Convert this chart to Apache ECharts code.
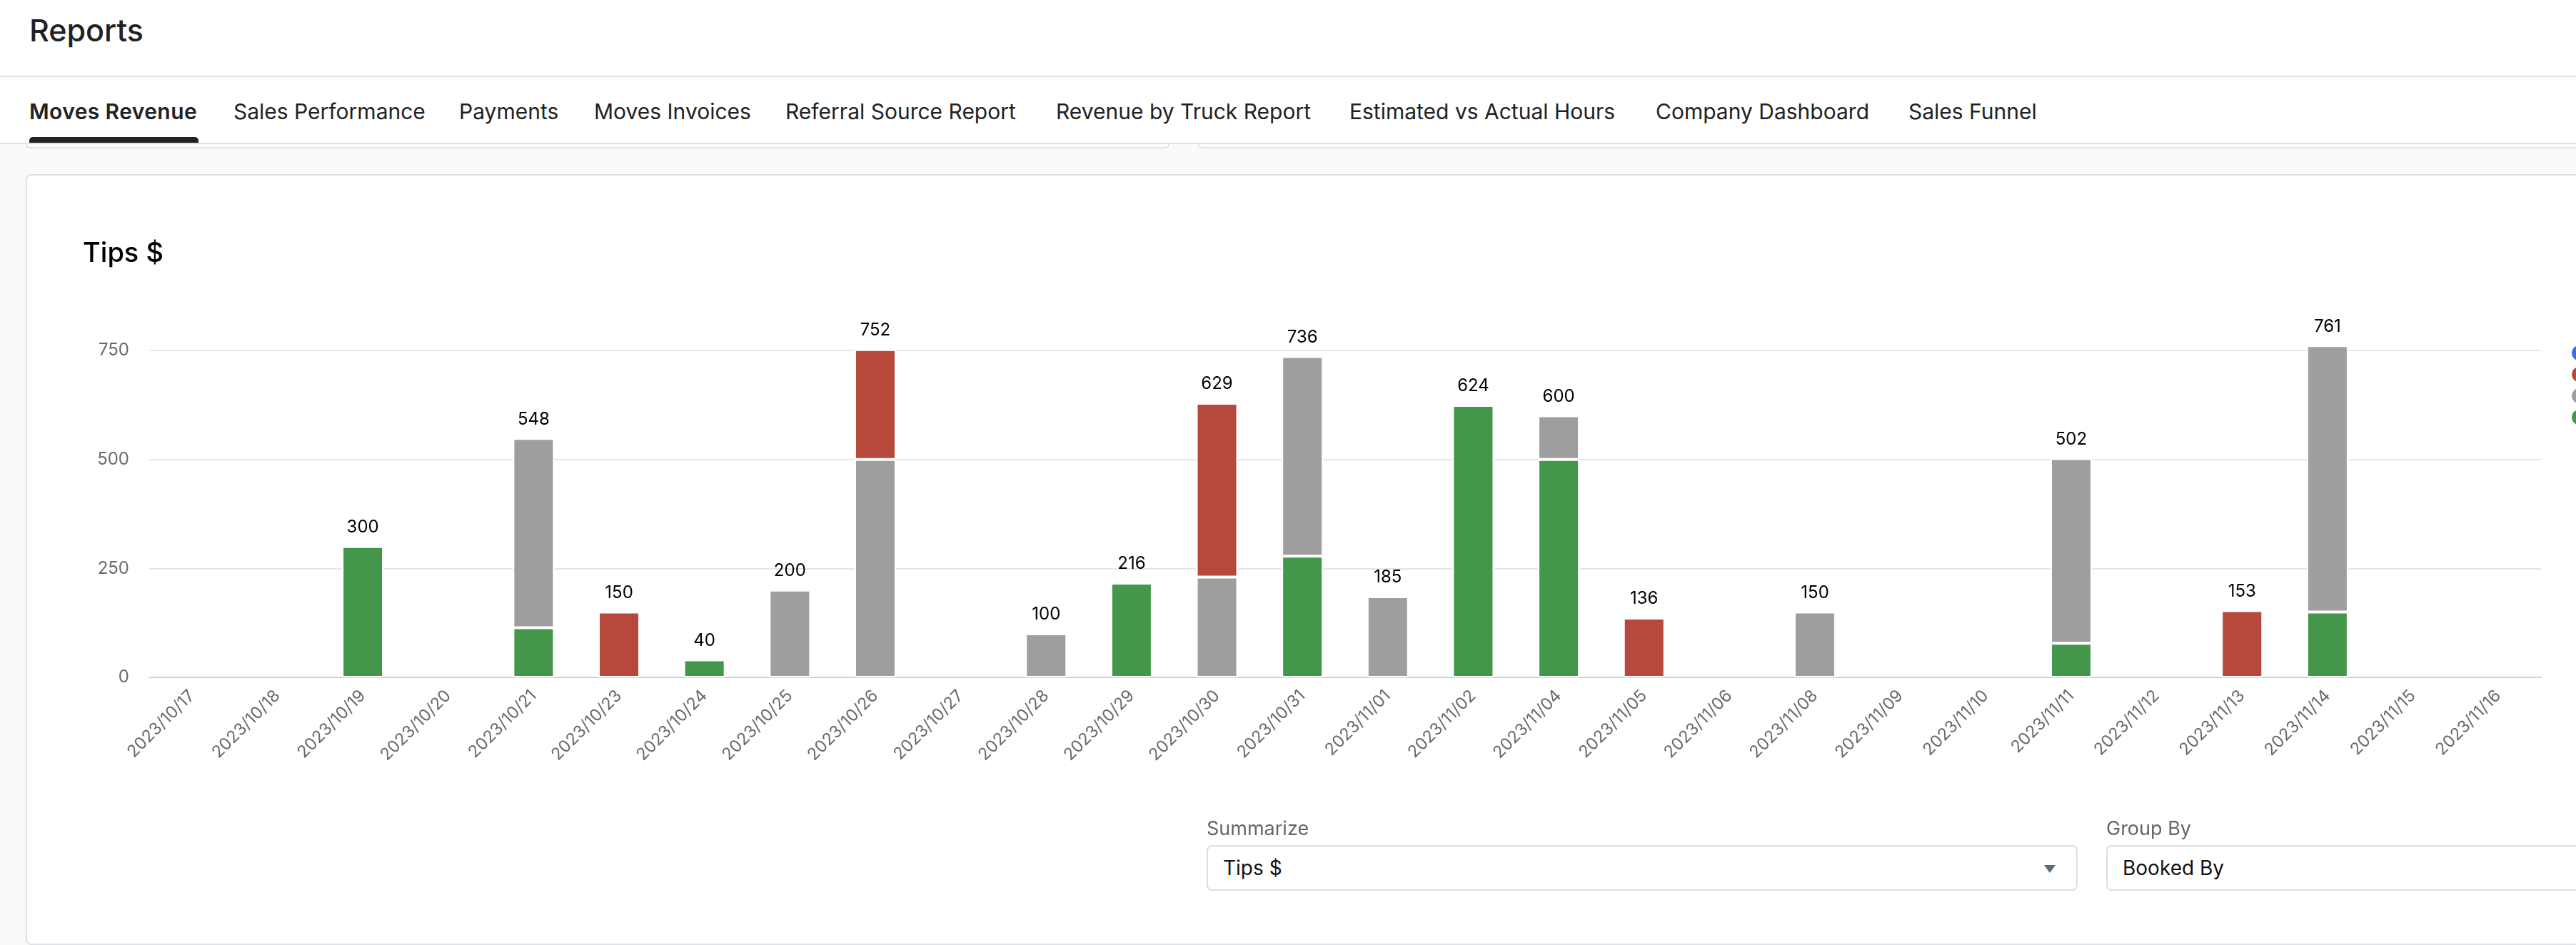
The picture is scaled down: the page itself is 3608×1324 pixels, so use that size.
<!DOCTYPE html>
<html>
<head>
<meta charset="utf-8">
<title>Reports</title>
<script src="https://cdn.jsdelivr.net/npm/echarts@6/dist/echarts.min.js"></script>
<style>
  html, body { margin: 0; padding: 0; width: 3608px; height: 1324px; overflow: hidden; background: #fafafa; font-family: Inter, sans-serif; }
  .abs { position: absolute; white-space: nowrap; }
  #header { left: 0; top: 0; width: 3608px; height: 200px; background: #fff; }
  #line1 { left: 0; top: 106px; width: 3608px; height: 2px; background: #e0e0e0; }
  #line2 { left: 0; top: 200px; width: 3608px; height: 2px; background: #e0e0e0; }
  #reports { left: 41px; top: 17px; font-size: 43px; line-height: 50px; font-weight: 500; color: #222; }
  .tab { top: 136px; font-size: 30px; line-height: 40px; color: #222; }
  .tab.active { font-weight: 600; letter-spacing: 0.4px; }
  #underline { left: 41px; top: 192px; width: 237px; height: 8px; background: #222; border-radius: 5px 5px 0 0; }
  .strip { top: 202px; height: 4px; background: #fff; border-bottom: 2px solid #dde1ea; }
  #strip1 { left: 36px; width: 1598px; border-left: 2px solid #dde1ea; border-right: 2px solid #dde1ea; border-radius: 0 0 8px 8px; }
  #strip2 { left: 1678px; width: 1930px; border-left: 2px solid #dde1ea; border-radius: 0 0 0 8px; }
  #card { left: 36px; top: 244px; width: 3640px; height: 1076px; background: #fff; border: 2px solid #dde1ea; border-radius: 8px; }
  #chart { left: 0; top: 0; width: 3608px; height: 1324px; }
  .fieldLabel { top: 1144px; font-size: 27px; line-height: 34px; color: #666; }
  .select { top: 1184px; height: 60px; background: #fff; border: 2px solid #d9deea; border-radius: 8px; font-size: 28px; line-height: 60px; color: #111; box-sizing: content-box; }
  #arrow { left: 2863px; top: 1212px; width: 0; height: 0; border-left: 8px solid transparent; border-right: 8px solid transparent; border-top: 11px solid #5c6b7a; }
</style>
</head>
<body>
<div id="header" class="abs"></div>
<div id="line1" class="abs"></div>
<div id="line2" class="abs"></div>
<div id="reports" class="abs">Reports</div>
<div class="abs tab active" style="left:41px">Moves Revenue</div>
<div class="abs tab" style="left:327px">Sales Performance</div>
<div class="abs tab" style="left:643px">Payments</div>
<div class="abs tab" style="left:832px">Moves Invoices</div>
<div class="abs tab" style="left:1100px">Referral Source Report</div>
<div class="abs tab" style="left:1479px">Revenue by Truck Report</div>
<div class="abs tab" style="left:1890px">Estimated vs Actual Hours</div>
<div class="abs tab" style="left:2319px">Company Dashboard</div>
<div class="abs tab" style="left:2673px">Sales Funnel</div>
<div id="underline" class="abs"></div>
<div id="strip1" class="abs strip"></div>
<div id="strip2" class="abs strip"></div>
<div id="card" class="abs"></div>
<div id="chart" class="abs"></div>
<div class="abs fieldLabel" style="left:1690px">Summarize</div>
<div class="abs select" style="left:1690px;width:1195px;padding-left:21px">Tips $</div>
<div id="arrow" class="abs"></div>
<div class="abs fieldLabel" style="left:2950px">Group By</div>
<div class="abs select" style="left:2950px;width:800px;padding-left:21px">Booked By</div>

<script>
const days = ['2023/10/17', '2023/10/18', '2023/10/19', '2023/10/20', '2023/10/21', '2023/10/23', '2023/10/24',
  '2023/10/25', '2023/10/26', '2023/10/27', '2023/10/28', '2023/10/29', '2023/10/30', '2023/10/31',
  '2023/11/01', '2023/11/02', '2023/11/04', '2023/11/05', '2023/11/06', '2023/11/08', '2023/11/09',
  '2023/11/10', '2023/11/11', '2023/11/12', '2023/11/13', '2023/11/14', '2023/11/15', '2023/11/16'];
const greenValues = [null, null, 300, null, 114, null, 40, null, null, null, null, 216, null, 278,
  null, 624, 500, null, null, null, null, null, 78, null, null, 150, null, null];
const grayValues = [null, null, null, null, 434, null, null, 200, 500, null, 100, null, 230, 458,
  185, null, 100, null, null, 150, null, null, 424, null, null, 611, null, null];
const redValues = [null, null, null, null, null, 150, null, null, 252, null, null, null, 399, null,
  null, null, null, 136, null, null, null, null, null, null, 153, null, null, null];
const blueValues = [null, null, null, null, null, null, null, null, null, null, null, null, null, null,
  null, null, null, null, null, null, null, null, null, null, null, null, null, null];
const totals = [null, null, 300, null, 548, 150, 40, 200, 752, null, 100, 216, 629, 736,
  185, 624, 600, 136, null, 150, null, null, 502, null, 153, 761, null, null];
const yTicks = { max: 750, interval: 250 };

const chartFont = 'Inter, sans-serif';

function stackedBar(name, color, values) {
  return {
    name: name,
    type: 'bar',
    stack: 'tips',
    barWidth: 58,
    barGap: '-100%',
    clip: false,
    data: values,
    itemStyle: { color: color, borderColor: '#fff', borderWidth: 2 }
  };
}

const myChart = echarts.init(document.getElementById('chart'));
myChart.setOption({
  animation: false,
  title: {
    text: 'Tips $',
    left: 111,
    top: 332,
    textStyle: { fontFamily: chartFont, fontSize: 38, fontWeight: 500, color: '#000' }
  },
  // the names run off the right edge of the page, only the dots show
  legend: {
    orient: 'vertical',
    left: 3602,
    top: 484,
    padding: 0,
    icon: 'circle',
    itemWidth: 21,
    itemHeight: 21,
    itemGap: 9,
    data: ['Blue', 'Red', 'Gray', 'Green'],
    formatter: () => '',
    itemStyle: { borderWidth: 0 }
  },
  grid: { left: 209, right: 49, top: 491, bottom: 375 },
  xAxis: {
    type: 'category',
    data: days,
    axisLine: { lineStyle: { color: '#c8d3e6', width: 2 } },
    axisTick: { length: 19, lineStyle: { color: '#c8d3e6', width: 2 } },
    axisLabel: { interval: 0, rotate: 45, margin: 22, fontFamily: chartFont, fontSize: 23.5, color: '#666a70' }
  },
  yAxis: {
    type: 'value',
    min: 0,
    max: yTicks.max,
    interval: yTicks.interval,
    axisLine: { show: false },
    axisTick: { show: false },
    axisLabel: { margin: 28, fontFamily: chartFont, fontSize: 24, color: '#666a70' },
    splitLine: { lineStyle: { color: '#e6e6e6', width: 2 } }
  },
  series: [
    stackedBar('Green', '#43964a', greenValues),
    stackedBar('Gray', '#9e9e9e', grayValues),
    stackedBar('Red', '#b7483c', redValues),
    stackedBar('Blue', '#3d6fe6', blueValues),
    {
      name: 'Total',
      type: 'bar',
      barWidth: 58,
      barGap: '-100%',
      clip: false,
      data: totals,
      itemStyle: { color: 'transparent' },
      label: { show: true, position: 'top', distance: 15, fontFamily: chartFont, fontSize: 24, color: '#000' }
    }
  ]
});
</script>
</body>
</html>
